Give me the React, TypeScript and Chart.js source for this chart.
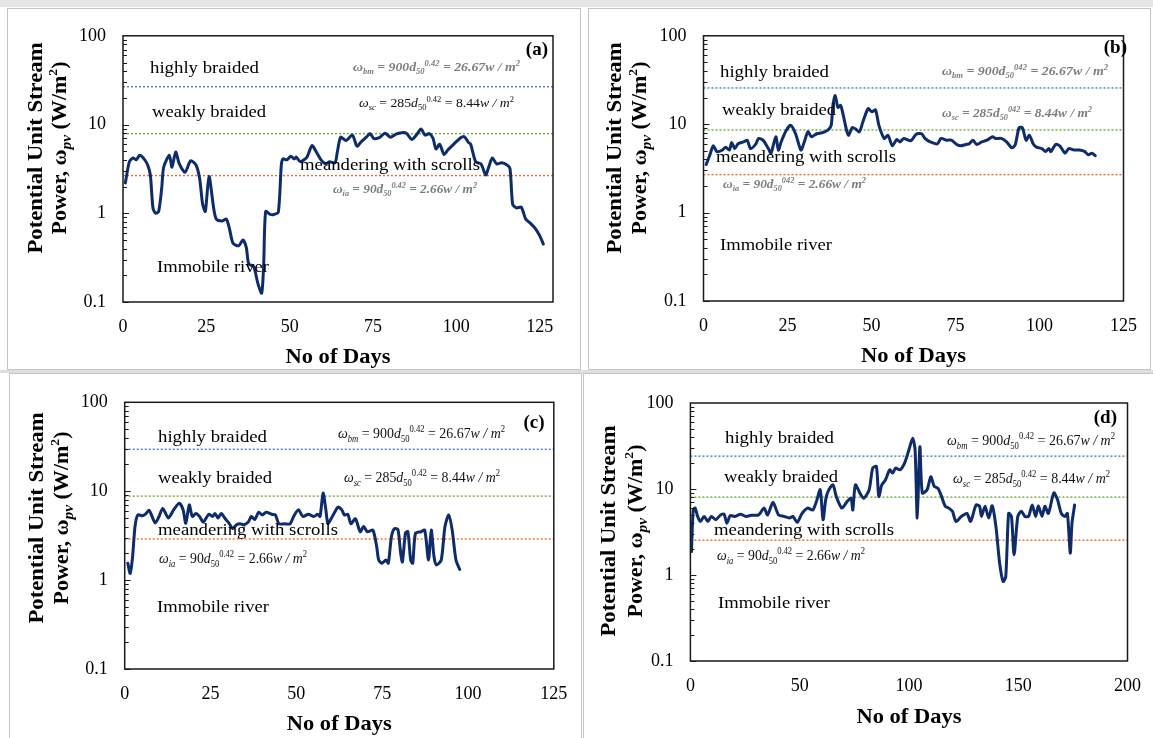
import React, { useEffect, useRef } from "react";
import { Chart, registerables } from "chart.js";

Chart.register(...registerables);

const SERIF = "'Liberation Serif', 'Times New Roman', Times, serif";
Chart.defaults.font.family = SERIF;

// ---------------- DATA ----------------
const yTickValues = [0.1, 1, 10, 100];
const xTicks125 = [0, 25, 50, 75, 100, 125];
const xTicks200 = [0, 50, 100, 150, 200];
const regimeLabels = ["highly braided", "weakly braided", "meandering with scrolls", "Immobile river"];

// panel (a)
const daysA = [0.7, 1.9, 3, 4, 5, 6.3, 7.4, 8.2, 9, 9.8, 10.7, 11.6, 12.2, 13.9, 14.7, 15.8, 16.9, 18.6, 20.3, 21.9, 23, 23.9, 24.7, 25.8, 27.2, 28, 29.7, 31, 31.9, 33, 34.7, 36, 37, 37.7, 39.2, 40.5, 41.6, 42.2, 42.8, 44.2, 45.3, 46.6, 47.5, 48, 49.2, 50.3, 51.4, 52, 53.2, 55.2, 56.7, 58, 59.4, 60.8, 61.9, 63.6, 64.3, 65.3, 66.9, 68.8, 70.2, 71.3, 73, 74.1, 75.2, 76.9, 78.6, 80.2, 81.9, 83.6, 85, 86.6, 88, 89.4, 90.6, 91.9, 93, 93.9, 95, 96.3, 97.5, 98.6, 101.3, 102.4, 103.6, 104.3, 105.8, 107.4, 108.8, 109.7, 110.8, 112.1, 113.6, 115.2, 116.1, 116.9, 118, 119.5, 120.8, 122.1, 123.6, 125, 126.1];
const powerA = [2.2, 3.8, 4.2, 4.0, 4.5, 4.1, 3.5, 2.7, 1.14, 1.0, 1.05, 1.9, 3.3, 4.5, 3.3, 4.9, 3.6, 2.9, 3.9, 3.5, 2.45, 1.26, 1.05, 2.6, 1.14, 0.86, 0.82, 0.86, 0.68, 0.46, 0.43, 0.5, 0.41, 0.27, 0.25, 0.16, 0.126, 0.26, 1.05, 0.97, 0.97, 1.03, 3.5, 4.1, 4.0, 4.4, 4.1, 4.3, 3.8, 4.3, 5.8, 4.9, 4.0, 3.6, 3.8, 3.7, 4.9, 7.2, 6.6, 7.6, 5.7, 6.3, 7.2, 7.9, 7.0, 7.1, 8.0, 7.2, 7.8, 8.1, 8.0, 6.8, 7.6, 8.9, 7.6, 7.9, 7.0, 5.3, 6.0, 4.6, 5.2, 5.7, 7.1, 7.3, 6.3, 6.0, 3.8, 3.6, 2.7, 3.3, 4.2, 3.6, 3.7, 3.5, 3.2, 1.26, 1.15, 1.17, 0.86, 0.78, 0.68, 0.56, 0.45];
const thresholdsA = [26.67, 7.9, 2.66];

// panel (b)
const daysB = [0.8, 1.9, 2.9, 4, 5.6, 6.6, 7.7, 8.4, 9.3, 10.3, 11.9, 13, 14, 15.6, 16.4, 17.7, 19.3, 20.1, 21.5, 22.3, 23.1, 24.7, 26, 27.4, 29, 30, 31.1, 32.1, 33.7, 35.3, 36.9, 38, 38.5, 39.2, 40, 40.8, 41.6, 42.7, 43.2, 44.3, 45.3, 46.4, 47.5, 49, 50.1, 51.2, 52.2, 53.8, 54.9, 56.2, 57.5, 58.5, 59.6, 61.7, 63.3, 64.9, 65.9, 67.5, 69.6, 70.7, 72.3, 73.8, 75.4, 76.5, 78.1, 79.1, 80.2, 81.3, 82.8, 84.4, 86, 87, 88.6, 90.2, 91.8, 92.8, 93.9, 94.9, 96, 97, 98.1, 99.1, 100.7, 101.8, 102.8, 103.4, 104.8, 106, 107.6, 108.7, 110.3, 111.9, 113.5, 114.5, 115.6, 116.6];
const powerB = [3.5, 4.5, 5.7, 4.9, 5.1, 5.5, 5.1, 6.2, 5.3, 6.0, 6.3, 6.6, 5.3, 6.0, 6.9, 6.6, 5.3, 4.7, 7.2, 5.1, 6.3, 8.6, 9.7, 7.8, 5.1, 6.3, 8.2, 7.2, 7.8, 8.0, 8.5, 9.7, 16.3, 21.1, 15.5, 16.3, 12.6, 8.2, 7.5, 9.2, 8.8, 8.2, 10.8, 15.0, 13.8, 14.5, 9.7, 6.9, 7.5, 5.7, 6.7, 6.3, 6.9, 6.5, 7.7, 7.8, 6.9, 6.3, 6.0, 6.9, 6.6, 6.6, 5.9, 5.7, 5.9, 6.0, 6.6, 5.9, 6.3, 6.6, 7.2, 6.9, 6.9, 6.3, 5.4, 5.9, 9.1, 9.1, 6.6, 7.5, 6.0, 5.5, 5.3, 4.9, 5.3, 4.9, 5.9, 5.7, 4.7, 5.3, 5.1, 5.1, 4.9, 4.5, 4.7, 4.4];
const thresholdsB = [25.7, 8.6, 2.69];

// panel (c)
const daysC = [0.9, 1.6, 2.3, 3, 3.8, 5.2, 6.2, 7.1, 7.8, 8.9, 10, 11.1, 12.7, 14.3, 15.9, 17, 17.8, 18.8, 19.7, 20.7, 21.8, 22.9, 24.5, 25.6, 26.3, 27.2, 28.1, 29.3, 30.4, 31.5, 32.6, 33.6, 34.7, 36, 36.9, 37.9, 39, 40.1, 41.2, 42.8, 43.9, 44.9, 46.5, 48.2, 49.2, 50.6, 51.9, 53.5, 55.1, 56.2, 56.9, 57.8, 58.6, 59.2, 60.5, 62.1, 63.2, 64, 65, 65.9, 67.2, 68.6, 69.6, 70.7, 72.3, 73.4, 74, 75, 76.1, 76.8, 77.7, 78.6, 79.6, 80.4, 80.9, 81.8, 82.5, 83.3, 83.9, 84.7, 86.3, 87.4, 88.5, 89.3, 90.1, 90.8, 92.2, 93.3, 94.4, 95.4, 96.5, 97.6];
const powerC = [1.55, 1.19, 1.84, 3.99, 5.4, 5.3, 5.6, 6.1, 5.4, 4.4, 5.2, 6.4, 5.0, 6.2, 7.3, 6.2, 4.35, 7.0, 5.2, 5.6, 5.2, 4.5, 5.5, 5.2, 5.6, 5.0, 5.6, 4.9, 4.35, 3.8, 4.2, 4.3, 4.2, 4.5, 5.2, 4.8, 5.8, 5.4, 5.8, 5.5, 5.4, 4.3, 4.3, 4.3, 5.2, 6.2, 5.2, 5.5, 5.2, 5.5, 5.2, 9.5, 6.2, 4.35, 5.2, 6.6, 6.2, 5.4, 5.5, 4.3, 4.9, 3.5, 4.0, 3.5, 3.65, 2.38, 1.68, 1.55, 1.68, 1.55, 3.08, 3.8, 3.7, 2.0, 1.6, 3.4, 3.5, 1.68, 1.55, 3.35, 3.5, 3.65, 1.68, 3.65, 1.84, 1.48, 1.68, 4.0, 5.4, 3.65, 1.68, 1.32];
const thresholdsC = [29.6, 8.8, 2.9];

// panel (d)
const daysD = [0.5, 1.3, 2.2, 3.3, 4.6, 6.3, 8, 9.6, 11.6, 13.8, 15.4, 16.7, 18.2, 20.4, 22.9, 25.4, 27.9, 31.2, 33.7, 35.3, 37.8, 40.3, 42.8, 45.3, 46.9, 48.9, 51.1, 53.6, 56, 57.7, 59.4, 60.7, 61.9, 63, 65.2, 66.8, 69.3, 71.8, 73.5, 74.3, 75.5, 77.6, 79.3, 81.8, 83.4, 85.1, 86.2, 87.6, 89.2, 91.2, 92.5, 93.9, 95.9, 98, 100, 101.7, 102.8, 103.8, 105, 106.1, 108.3, 110, 111.6, 113.3, 114.9, 116.6, 118.2, 119.9, 121.5, 124, 126.5, 128.2, 130.7, 132.3, 133.2, 134.8, 136.5, 138.1, 139.8, 141.5, 143.1, 144.3, 145.6, 146.9, 148.1, 149.8, 151.4, 153.1, 154.7, 156.4, 158, 159.2, 160.9, 162.2, 163.8, 166.3, 168, 169.7, 171.3, 172.5, 173.8, 174.6, 175.8];
const powerD = [1.87, 5.7, 6.0, 4.8, 4.2, 4.8, 4.2, 4.8, 4.4, 5.0, 5.1, 4.0, 4.9, 4.8, 5.1, 4.8, 4.95, 5.0, 6.0, 5.0, 7.0, 5.0, 4.8, 4.6, 4.8, 4.1, 5.2, 6.0, 5.7, 7.2, 9.8, 4.4, 7.5, 9.4, 11.2, 8.1, 6.0, 7.2, 7.8, 5.7, 11.2, 8.9, 7.8, 9.8, 17.5, 18.3, 8.2, 11.2, 12.7, 16.7, 15.3, 17.5, 16.7, 20.0, 28.6, 39, 28.6, 4.6, 31, 9.0, 9.8, 13.9, 10.7, 10.2, 8.2, 6.3, 6.0, 5.5, 4.2, 4.8, 5.2, 4.2, 6.5, 6.3, 4.8, 6.3, 4.6, 6.4, 3.65, 1.37, 0.84, 0.96, 5.2, 4.8, 1.72, 4.8, 5.5, 4.8, 4.8, 6.5, 4.8, 6.4, 4.8, 6.3, 5.2, 9.0, 7.5, 5.2, 4.8, 5.2, 1.8, 4.0, 6.5];
const thresholdsD = [24.1, 8.04, 2.54];

// ---------------- STYLE / LAYOUT ----------------
const SERIES_COLOR = "#0f2c6a";
const THRESH_COLORS = ["#4f7fc0", "#74a844", "#e8702c"];

type Box = { left: number; top: number; width: number; height: number };
type Plot = { l: number; r: number; t: number; b: number };
type Pt = [number, number];
type FormulaSpec = { sub: string; coef: string; exp: string; val: string; x: number; y: number; w: number; gray: boolean };

type PanelCfg = {
  id: string;
  box: Box;
  plot: Plot;
  xMax: number;
  xTicks: number[];
  days: number[];
  power: number[];
  thresholds: number[];
  tag: string;
  tagPos: Pt;
  labelPos: Pt[];
  formulas: FormulaSpec[];
  yTitle: { c1: number; c2: number; cy: number };
  xTitleY: number;
  formulaSize: number;
};

const LABEL_WIDTHS = [109, 114, 180, 112];

const PANELS: PanelCfg[] = [
  {
    id: "a",
    box: { left: 7, top: 8, width: 574, height: 362 },
    plot: { l: 123, r: 553, t: 33, b: 302 },
    xMax: 129,
    xTicks: xTicks125,
    days: daysA,
    power: powerA,
    thresholds: thresholdsA,
    tag: "(a)",
    tagPos: [548, 55],
    labelPos: [[150, 73], [152, 117], [300, 170], [157, 272]],
    formulas: [
      { sub: "bm", coef: "900", exp: "0.42", val: "26.67", x: 353, y: 71, w: 167, gray: true },
      { sub: "sc", coef: "285", exp: "0.42", val: "8.44", x: 359, y: 107, w: 155, gray: false },
      { sub: "ia", coef: "90", exp: "0.42", val: "2.66", x: 333, y: 193, w: 144, gray: true },
    ],
    yTitle: { c1: 35, c2: 59, cy: 148 },
    xTitleY: 363,
    formulaSize: 13,
  },
  {
    id: "b",
    box: { left: 588, top: 8, width: 563, height: 362 },
    plot: { l: 703.5, r: 1132, t: 33, b: 301 },
    xMax: 125,
    xTicks: xTicks125,
    days: daysB,
    power: powerB,
    thresholds: thresholdsB,
    tag: "(b)",
    tagPos: [1127, 53],
    labelPos: [[720, 77], [722, 115], [716, 162], [720, 250]],
    formulas: [
      { sub: "bm", coef: "900", exp: "042", val: "26.67", x: 942, y: 75, w: 166, gray: true },
      { sub: "sc", coef: "285", exp: "042", val: "8.44", x: 942, y: 117, w: 150, gray: true },
      { sub: "ia", coef: "90", exp: "042", val: "2.66", x: 723, y: 188, w: 143, gray: true },
    ],
    yTitle: { c1: 614, c2: 639, cy: 148 },
    xTitleY: 362,
    formulaSize: 13,
  },
  {
    id: "c",
    box: { left: 9, top: 373, width: 573, height: 367 },
    plot: { l: 124.7, r: 553.8, t: 402.3, b: 669 },
    xMax: 125,
    xTicks: xTicks125,
    days: daysC,
    power: powerC,
    thresholds: thresholdsC,
    tag: "(c)",
    tagPos: [544.6, 428],
    labelPos: [[158, 442], [158, 483], [158, 535], [157, 612]],
    formulas: [
      { sub: "bm", coef: "900", exp: "0.42", val: "26.67", x: 338, y: 438, w: 167, gray: false },
      { sub: "sc", coef: "285", exp: "0.42", val: "8.44", x: 344, y: 482, w: 156, gray: false },
      { sub: "ia", coef: "90", exp: "0.42", val: "2.66", x: 159, y: 563, w: 148, gray: false },
    ],
    yTitle: { c1: 36, c2: 61, cy: 518 },
    xTitleY: 730,
    formulaSize: 15,
  },
  {
    id: "d",
    box: { left: 583, top: 373, width: 572, height: 367 },
    plot: { l: 690.4, r: 1131, t: 403, b: 661 },
    xMax: 200,
    xTicks: xTicks200,
    days: daysD,
    power: powerD,
    thresholds: thresholdsD,
    tag: "(d)",
    tagPos: [1117, 423],
    labelPos: [[725, 443], [724, 482], [714, 535], [718, 608]],
    formulas: [
      { sub: "bm", coef: "900", exp: "0.42", val: "26.67", x: 947, y: 445, w: 168, gray: false },
      { sub: "sc", coef: "285", exp: "0.42", val: "8.44", x: 953, y: 483, w: 157, gray: false },
      { sub: "ia", coef: "90", exp: "0.42", val: "2.66", x: 717, y: 560, w: 148, gray: false },
    ],
    yTitle: { c1: 608.5, c2: 635, cy: 531 },
    xTitleY: 723,
    formulaSize: 15,
  },
];

// ---------------- TEXT HELPERS ----------------
type Run = { t: string; it?: boolean; sc?: number; dy?: number };

function runFont(r: Run, size: number, bold: boolean, allItalic: boolean) {
  const it = r.it || allItalic;
  return `${it ? "italic " : ""}${bold ? "bold " : ""}${(size * (r.sc ?? 1)).toFixed(2)}px ${SERIF}`;
}

function drawRuns(
  ctx: CanvasRenderingContext2D,
  runs: Run[],
  x: number,
  y: number,
  size: number,
  color: string,
  targetWidth: number,
  opts: { bold?: boolean; allItalic?: boolean; align?: "left" | "center"; rotate?: boolean } = {}
) {
  const bold = !!opts.bold;
  const allItalic = !!opts.allItalic;
  const widths = runs.map((r) => {
    ctx.font = runFont(r, size, bold, allItalic);
    return ctx.measureText(r.t).width;
  });
  const total = widths.reduce((a, b) => a + b, 0);
  const s = targetWidth > 0 ? targetWidth / total : 1;
  ctx.save();
  ctx.translate(x, y);
  if (opts.rotate) ctx.rotate(-Math.PI / 2);
  ctx.scale(s, 1);
  ctx.fillStyle = color;
  ctx.textAlign = "left";
  ctx.textBaseline = "alphabetic";
  let cx = opts.align === "center" ? -total / 2 : 0;
  const baseOff = opts.rotate ? size * 0.33 : 0;
  runs.forEach((r, i) => {
    ctx.font = runFont(r, size, bold, allItalic);
    ctx.fillText(r.t, cx, baseOff + (r.dy ?? 0) * size);
    cx += widths[i];
  });
  ctx.restore();
}

function formulaRuns(f: FormulaSpec): Run[] {
  return [
    { t: "ω", it: true },
    { t: f.sub, it: true, sc: 0.62, dy: 0.25 },
    { t: " = " + f.coef },
    { t: "d", it: true },
    { t: "50", sc: 0.62, dy: 0.25 },
    { t: f.exp, sc: 0.62, dy: -0.42 },
    { t: " = " + f.val },
    { t: "w / m", it: true },
    { t: "2", sc: 0.62, dy: -0.42 },
  ];
}

// ---------------- CHART ----------------
function buildConfig(cfg: PanelCfg): any {
  const { box, plot } = cfg;
  const yWidth = plot.l - box.left;
  const padTop = plot.t - box.top;
  const padRight = box.width - (plot.r - box.left);
  const xHeight = box.height - (plot.b - box.top);

  const overlay = {
    id: "overlay" + cfg.id,
    afterDatasetsDraw(chart: any) {
      const ctx: CanvasRenderingContext2D = chart.ctx;
      const ca = chart.chartArea;
      const ys = chart.scales.y;
      const ox = box.left;
      const oy = box.top;

      // plot frame
      ctx.save();
      ctx.strokeStyle = "#1a1a1a";
      ctx.lineWidth = 1.5;
      ctx.strokeRect(ca.left, ca.top, ca.right - ca.left, ca.bottom - ca.top);
      // log ticks on left axis (inside)
      ctx.lineWidth = 1;
      ctx.beginPath();
      for (let e = -1; e <= 1; e++) {
        for (let k = 1; k <= 9; k++) {
          const v = k * Math.pow(10, e);
          const py = Math.round(ys.getPixelForValue(v)) + 0.5;
          const len = k === 1 ? 6 : 4;
          ctx.moveTo(ca.left, py);
          ctx.lineTo(ca.left + len, py);
        }
      }
      ctx.stroke();
      ctx.restore();

      // regime labels
      regimeLabels.forEach((txt, i) => {
        const [px, py] = cfg.labelPos[i];
        drawRuns(ctx, [{ t: txt }], px - ox, py - oy, 16, "#000", LABEL_WIDTHS[i]);
      });

      // formulas
      cfg.formulas.forEach((f) => {
        drawRuns(ctx, formulaRuns(f), f.x - ox, f.y - oy, cfg.formulaSize, f.gray ? "#7d7d7d" : "#111", f.w, {
          bold: f.gray,
          allItalic: f.gray,
        });
      });

      // tag
      ctx.save();
      ctx.font = `bold 19px ${SERIF}`;
      ctx.fillStyle = "#000";
      ctx.textAlign = "right";
      ctx.textBaseline = "alphabetic";
      ctx.fillText(cfg.tag, cfg.tagPos[0] - ox, cfg.tagPos[1] - oy);
      ctx.restore();

      // x title
      drawRuns(ctx, [{ t: "No of Days" }], (ca.left + ca.right) / 2, cfg.xTitleY - oy, 22, "#000", 105, {
        bold: true,
        align: "center",
      });

      // y title (two lines, rotated)
      drawRuns(ctx, [{ t: "Potential Unit Stream" }], cfg.yTitle.c1 - ox, cfg.yTitle.cy - oy, 21, "#000", 211, {
        bold: true,
        align: "center",
        rotate: true,
      });
      drawRuns(
        ctx,
        [
          { t: "Power, " },
          { t: "ω" },
          { t: "pv", it: true, sc: 0.7, dy: 0.22 },
          { t: " (W/m" },
          { t: "2", sc: 0.62, dy: -0.42 },
          { t: ")" },
        ],
        cfg.yTitle.c2 - ox,
        cfg.yTitle.cy - oy,
        21,
        "#000",
        173,
        { bold: true, align: "center", rotate: true }
      );
    },
  };

  const series = {
    label: "Potential unit stream power",
    data: cfg.days.map((d, i) => ({ x: d, y: cfg.power[i] })),
    borderColor: SERIES_COLOR,
    borderWidth: 3,
    pointRadius: 0,
    tension: 0.25,
    borderJoinStyle: "round",
    borderCapStyle: "round",
    fill: false,
  };

  const thresholdSets = cfg.thresholds.map((v, i) => ({
    label: "threshold " + i,
    data: [
      { x: 0, y: v },
      { x: cfg.xMax, y: v },
    ],
    borderColor: THRESH_COLORS[i],
    borderWidth: 1.4,
    borderDash: [2, 2],
    pointRadius: 0,
    tension: 0,
    fill: false,
  }));

  const tickFont = { family: SERIF, size: 18 };

  return {
    type: "line",
    data: { datasets: [series, ...thresholdSets] },
    options: {
      animation: false,
      responsive: false,
      maintainAspectRatio: false,
      events: [],
      layout: { padding: { left: 0, top: padTop, right: padRight, bottom: 0 } },
      plugins: { legend: { display: false }, tooltip: { enabled: false }, title: { display: false } },
      scales: {
        x: {
          type: "linear",
          min: 0,
          max: cfg.xMax,
          afterBuildTicks: (s: any) => {
            s.ticks = cfg.xTicks.map((v) => ({ value: v }));
          },
          afterFit: (s: any) => {
            s.height = xHeight;
          },
          grid: { display: false, drawTicks: false },
          border: { display: false },
          ticks: { padding: 14, color: "#000", font: tickFont, maxRotation: 0, autoSkip: false },
        },
        y: {
          type: "logarithmic",
          min: 0.1,
          max: 100,
          afterBuildTicks: (s: any) => {
            s.ticks = yTickValues.map((v) => ({ value: v }));
          },
          afterFit: (s: any) => {
            s.width = yWidth;
          },
          grid: { display: false, drawTicks: false },
          border: { display: false },
          ticks: { padding: 17, color: "#000", font: tickFont, autoSkip: false, callback: (v: any) => String(v) },
        },
      },
    },
    plugins: [overlay],
  };
}

function Panel({ cfg }: { cfg: PanelCfg }) {
  const ref = useRef<HTMLCanvasElement | null>(null);
  useEffect(() => {
    const canvas = ref.current;
    if (!canvas) return;
    const chart = new Chart(canvas, buildConfig(cfg));
    return () => chart.destroy();
  }, [cfg]);
  const b = cfg.box;
  return (
    <div style={{ position: "absolute", left: b.left, top: b.top, width: b.width, height: b.height, background: "#fff" }}>
      <canvas ref={ref} width={b.width} height={b.height} style={{ display: "block", width: b.width, height: b.height }} />
      <div
        style={{
          position: "absolute",
          left: 0,
          top: 0,
          width: b.width,
          height: b.height,
          boxSizing: "border-box",
          border: "1px solid #c4c4c4",
          pointerEvents: "none",
        }}
      />
    </div>
  );
}

export default function App() {
  return (
    <div
      style={{
        position: "absolute",
        left: 0,
        top: 0,
        width: 1153,
        height: 738,
        overflow: "hidden",
        background: "#fff",
      }}
    >
      <div style={{ position: "absolute", left: 0, top: 0, width: 1153, height: 7, background: "#e6e6e6" }} />
      <div style={{ position: "absolute", left: 0, top: 370, width: 1153, height: 3, background: "#dedede" }} />
      {PANELS.map((p) => (
        <Panel key={p.id} cfg={p} />
      ))}
    </div>
  );
}
